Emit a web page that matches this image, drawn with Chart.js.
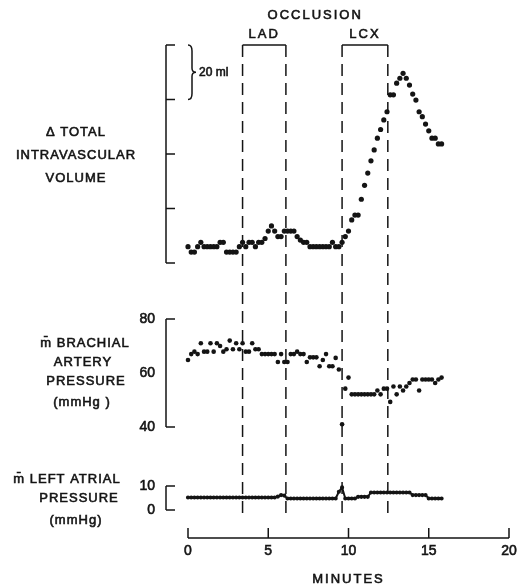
<!DOCTYPE html>
<html lang="en">
<head>
    <meta charset="UTF-8">
    <title>Occlusion - volume and pressures</title>
    <script src="https://cdn.jsdelivr.net/npm/chart.js@4.4.0/dist/chart.umd.min.js"></script>
    <style>
        body{
            margin: 0;
            background: #fff;
        }
    </style>
</head>
<body>
    <canvas id="occlusionChart" width="521" height="588"></canvas>

<script>
    // sample times (minutes) shared by the three traces
    var minutes = [0, 0.2, 0.4, 0.6, 0.8, 1.0, 1.2, 1.4, 1.6, 1.8,
        2.0, 2.2, 2.4, 2.6, 2.8, 3.0, 3.2, 3.4, 3.6, 3.8,
        4.0, 4.2, 4.4, 4.6, 4.8, 5.0, 5.2, 5.4, 5.6, 5.8,
        6.0, 6.2, 6.4, 6.6, 6.8, 7.0, 7.2, 7.4, 7.6, 7.8,
        8.0, 8.2, 8.4, 8.6, 8.8, 9.0, 9.2, 9.4, 9.6, 9.8,
        10.0, 10.2, 10.4, 10.6, 10.8, 11.0, 11.2, 11.4, 11.6, 11.8,
        12.0, 12.2, 12.4, 12.6, 12.8, 13.0, 13.2, 13.4, 13.6, 13.8,
        14.0, 14.2, 14.4, 14.6, 14.8, 15.0, 15.2, 15.4, 15.6, 15.8];

    // change in total intravascular volume (ml, above the bottom tick)
    var volume = [6, 4, 4, 6, 7.6, 6, 6, 6, 6, 6,
        7.6, 7.6, 4, 4, 4, 4, 6, 7.6, 6, 7.6,
        7.6, 6, 7.6, 7.6, 9, 11.7, 13.6, 11.7, 9.7, 9.7,
        11.7, 11.7, 11.7, 11.7, 9.7, 8.4, 7.6, 7.6, 6, 6,
        6, 6, 6, 6, 6, 7.6, 6, 6, 7.6, 9.7,
        11.7, 15.8, 17.6, 17.6, 23.4, 28.5, 33, 37.5, 41.5, 45.8,
        49, 52.5, 55.5, 61.7, 61.7, 66, 67.8, 69.6, 67.8, 65.3,
        62, 59.8, 55.5, 53.7, 51, 48.5, 45.8, 45.8, 43.7, 43.7];

    // mean brachial artery pressure (mmHg)
    var brachial = [64.8, 67, 67.9, 67, 71, 67.9, 67.9, 71, 67.9, 71,
        70, 67.9, 68.8, 72, 68.8, 71, 68.8, 71, 67.9, 67.9,
        71, 68.8, 68.8, 67, 67, 67, 67, 67, 64.1, 67,
        64.1, 64.1, 67, 67, 67.9, 67, 67, 64.1, 65.8, 65.8,
        65.8, 62.5, 64.8, 67, 62.5, 62.5, 65.6, 61.3, 41, 54.2,
        58.3, 52.1, 52.1, 52.1, 52.1, 52.1, 52.1, 52.1, 52.1, 53.5,
        52.1, 54.2, 54.2, 49.3, 55, 52.1, 55, 53.5, 55, 56.3,
        57.6, 57.6, 53.5, 57.6, 57.6, 57.6, 57.6, 56.3, 57.6, 58.3];

    // mean left atrial pressure (mmHg)
    var leftAtrial = [5.2, 5.2, 5.2, 5.2, 5.2, 5.2, 5.2, 5.2, 5.2, 5.2,
        5.2, 5.2, 5.2, 5.2, 5.2, 5.2, 5.2, 5.2, 5.2, 5.2,
        5.2, 5.2, 5.2, 5.2, 5.2, 5.2, 5.2, 5.2, 5.6, 6.2,
        6.0, 4.8, 4.8, 4.8, 4.8, 4.8, 4.8, 4.8, 4.8, 4.8,
        4.8, 4.8, 4.8, 4.8, 4.8, 4.8, 4.8, 7.6, 9.4, 4.8,
        4.8, 4.8, 4.8, 5.5, 5.5, 5.5, 5.5, 7.3, 7.3, 7.3,
        7.3, 7.3, 7.3, 7.3, 7.3, 7.3, 7.3, 7.3, 7.3, 7.3,
        6.2, 6.2, 6.2, 6.2, 6.2, 4.8, 4.8, 4.8, 4.8, 4.8];

    // occlusion start/end times (minutes): LAD, then LCX
    var occlusionTimes = [3.4, 6.1, 9.6, 12.45];
    var occlusionNames = ['LAD', 'LCX'];

    var xTicks = [0, 5, 10, 15, 20];
    var volumeTicks = [80, 60, 40, 20, 0];
    var brachialTicks = [80, 60, 40];
    var atrialTicks = [10, 0];

    // fixed plot box, the three panels share it
    var TOP = 45, BOTTOM = 538;
    // value range so that value a sits on pixel pa and b on pb
    function rangeFor(a, pa, b, pb){
        var k = (b - a) / (pb - pa);
        return {min: a + (BOTTOM - pa) * k, max: a + (TOP - pa) * k};
    }
    var volRange = rangeFor(0, 263, 80, 45);
    var baRange = rangeFor(40, 427, 80, 319);
    var laRange = rangeFor(0, 510, 10, 486);

    function pts(values){
        return minutes.map(function(t, i){ return {x: t, y: values[i]}; });
    }

    var ink = '#141414';
    var FONT = '"Liberation Sans", Arial, sans-serif';

    // the scan's lettering is heavy, so fill and then stroke thinly
    function text(ctx, str, x, y, size, align, spacing){
        ctx.font = size + 'px ' + FONT;
        ctx.letterSpacing = (spacing || 0) + 'px';
        ctx.textAlign = align || 'center';
        ctx.textBaseline = 'middle';
        ctx.fillText(str, x, y);
        ctx.lineWidth = 0.6;
        ctx.strokeText(str, x, y);
        ctx.lineWidth = 1.5;
    }

    // brackets, labels, occlusion markers and the minutes axis
    var decorations = {
        id: 'decorations',
        afterDraw: function(chart){
            var ctx = chart.ctx;
            var sx = chart.scales.x;
            var axX = 166, tickEnd = 175;
            ctx.save();
            ctx.strokeStyle = ink;
            ctx.fillStyle = ink;
            ctx.lineWidth = 1.5;

            function bracket(scale, ticks, allTicks){
                var top = scale.getPixelForValue(ticks[0]);
                var bot = scale.getPixelForValue(ticks[ticks.length - 1]);
                ctx.beginPath();
                ctx.moveTo(axX, top);
                ctx.lineTo(axX, bot);
                ticks.forEach(function(v, i){
                    if(allTicks || i == 0 || i == ticks.length - 1){
                        var p = scale.getPixelForValue(v);
                        ctx.moveTo(axX, p);
                        ctx.lineTo(tickEnd, p);
                    }
                });
                ctx.stroke();
            }

            // volume panel
            var yv = chart.scales.yVol;
            bracket(yv, volumeTicks, true);
            var b0 = yv.getPixelForValue(80), b1 = yv.getPixelForValue(60), bm = (b0 + b1) / 2;
            ctx.beginPath();
            ctx.moveTo(188, b0);
            ctx.quadraticCurveTo(192, b0, 192, b0 + 6);
            ctx.lineTo(192, bm - 4);
            ctx.quadraticCurveTo(192, bm, 196, bm);
            ctx.quadraticCurveTo(192, bm, 192, bm + 4);
            ctx.lineTo(192, b1 - 6);
            ctx.quadraticCurveTo(192, b1, 188, b1);
            ctx.stroke();
            text(ctx, '20 ml', 199, bm, 12, 'left', 0);
            text(ctx, '\u0394 TOTAL', 76, 132, 13, 'center', 1);
            text(ctx, 'INTRAVASCULAR', 76, 155, 13, 'center', 1);
            text(ctx, 'VOLUME', 76, 178, 13, 'center', 1);

            // brachial panel
            var yb = chart.scales.yBA;
            bracket(yb, brachialTicks, false);
            brachialTicks.forEach(function(v){
                text(ctx, String(v), 155, yb.getPixelForValue(v), 14, 'right', 0);
            });
            text(ctx, 'm\u0304 BRACHIAL', 85, 343, 13, 'center', 1);
            text(ctx, 'ARTERY', 83, 362, 13, 'center', 1);
            text(ctx, 'PRESSURE', 86, 381, 13, 'center', 1);
            text(ctx, '(mmHg )', 82, 402, 13, 'center', 1);

            // left atrial panel
            var yl = chart.scales.yLA;
            bracket(yl, atrialTicks, true);
            atrialTicks.forEach(function(v){
                text(ctx, String(v), 155, yl.getPixelForValue(v), 14, 'right', 0);
            });
            text(ctx, 'm\u0304 LEFT ATRIAL', 67, 479, 13, 'center', 1);
            text(ctx, 'PRESSURE', 79, 498, 13, 'center', 1);
            text(ctx, '(mmHg)', 76, 520, 13, 'center', 1);

            // occlusion markers
            ctx.setLineDash([12, 7]);
            occlusionTimes.forEach(function(t){
                var px = sx.getPixelForValue(t);
                ctx.beginPath();
                ctx.moveTo(px, TOP);
                ctx.lineTo(px, 514);
                ctx.stroke();
            });
            ctx.setLineDash([]);
            occlusionNames.forEach(function(name, i){
                var a = sx.getPixelForValue(occlusionTimes[2 * i]);
                var b = sx.getPixelForValue(occlusionTimes[2 * i + 1]);
                ctx.beginPath();
                ctx.moveTo(a, TOP);
                ctx.lineTo(b, TOP);
                ctx.stroke();
                text(ctx, name, (a + b) / 2, 34, 13, 'center', 2);
            });
            var oc = (sx.getPixelForValue(occlusionTimes[0]) + sx.getPixelForValue(occlusionTimes[3])) / 2;
            text(ctx, 'OCCLUSION', oc, 15, 13, 'center', 2);

            // minutes axis, ticks pointing up
            var x0 = sx.getPixelForValue(xTicks[0]), x1 = sx.getPixelForValue(xTicks[xTicks.length - 1]);
            ctx.beginPath();
            ctx.moveTo(x0, BOTTOM);
            ctx.lineTo(x1, BOTTOM);
            xTicks.forEach(function(v){
                var px = sx.getPixelForValue(v);
                ctx.moveTo(px, BOTTOM);
                ctx.lineTo(px, BOTTOM - 10);
            });
            ctx.stroke();
            xTicks.forEach(function(v){
                text(ctx, String(v), sx.getPixelForValue(v), 551, 14, 'center', 0);
            });
            text(ctx, 'MINUTES', (x0 + x1) / 2, 579, 13, 'center', 2);
            ctx.restore();
        }
    };

    var canvas = document.getElementById('occlusionChart');
    var occlusionChart = new Chart(canvas, {
        type: 'scatter',
        data: {
            datasets: [
                {
                    label: 'Total intravascular volume',
                    data: pts(volume),
                    yAxisID: 'yVol',
                    backgroundColor: ink,
                    borderColor: ink,
                    pointRadius: 2.6,
                    borderWidth: 0,
                    clip: false
                },
                {
                    label: 'Brachial artery pressure',
                    data: pts(brachial),
                    yAxisID: 'yBA',
                    backgroundColor: ink,
                    borderColor: ink,
                    pointRadius: 2.3,
                    borderWidth: 0,
                    clip: false
                },
                {
                    label: 'Left atrial pressure',
                    data: pts(leftAtrial),
                    yAxisID: 'yLA',
                    backgroundColor: ink,
                    borderColor: ink,
                    showLine: true,
                    borderWidth: 2,
                    pointRadius: 1.1,
                    clip: false
                }
            ]
        },
        options: {
            responsive: false,
            animation: false,
            layout: { padding: { left: 188, right: 12, top: TOP, bottom: 588 - BOTTOM } },
            plugins: {
                legend: { display: false },
                tooltip: { enabled: false }
            },
            scales: {
                x: { type: 'linear', min: 0, max: 20, display: false },
                yVol: { type: 'linear', min: volRange.min, max: volRange.max, display: false },
                yBA: { type: 'linear', min: baRange.min, max: baRange.max, display: false },
                yLA: { type: 'linear', min: laRange.min, max: laRange.max, display: false }
            }
        },
        plugins: [decorations]
    });
</script>
</body>
</html>
